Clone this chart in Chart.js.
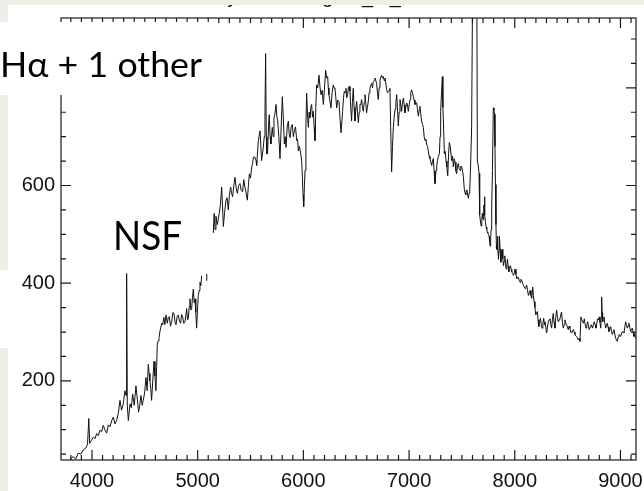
<!DOCTYPE html>
<html>
<head>
<meta charset="utf-8">
<script src="https://cdn.jsdelivr.net/npm/chart.js@4"></script>
<style>
  html, body { margin: 0; padding: 0; background: #fff; }
  #wrap { position: relative; width: 644px; height: 491px; }
</style>
</head>
<body>
<div id="wrap"><canvas id="spectrum" width="644" height="491"></canvas></div>
<script>
// Observed spectrum: wavelength (Angstrom) and flux; null marks the gap between the two arms
const wavelength = [
  3770, 3800, 3823, 3845, 3870, 3895, 3918, 3940, 3958, 3970, 3978, 3995, 4013, 4030, 4044, 4060,
  4076, 4092, 4107, 4122, 4139, 4155, 4170, 4186, 4202, 4218, 4233, 4250, 4265, 4280, 4296, 4312,
  4322, 4328, 4334, 4344, 4360, 4372, 4385, 4400, 4416, 4428, 4441, 4452, 4463, 4475, 4485, 4498,
  4511, 4522, 4533, 4541, 4548, 4556, 4564, 4575, 4587, 4596, 4605, 4612, 4618, 4626, 4634, 4642,
  4650, 4660, 4669, 4680, 4690, 4700, 4713, 4722, 4732, 4743, 4754, 4765, 4776, 4786, 4795, 4806,
  4817, 4828, 4839, 4848, 4858, 4868, 4880, 4896, 4904, 4912, 4920, 4927, 4935, 4943, 4951, 4959,
  4967, 4975, 4982, 4990, 4998, 5006, 5014, 5022, 5030, 5038, 5060, 5080, 5086, 5115,
  5148, 5156, 5164, 5173, 5185, 5194, 5204, 5215, 5227, 5235, 5243, 5255, 5268, 5278, 5290, 5300,
  5312, 5320, 5331, 5342, 5353, 5364, 5375, 5388, 5400, 5412, 5425, 5436, 5447, 5458, 5470, 5480,
  5489, 5500, 5511, 5520, 5527, 5542, 5552, 5558, 5574, 5590, 5605, 5621, 5630, 5637, 5643, 5649,
  5655, 5661, 5670, 5677, 5685, 5693, 5706, 5714, 5722, 5730, 5741, 5750, 5757, 5768, 5779, 5790,
  5801, 5810, 5820, 5828, 5836, 5847, 5858, 5866, 5874, 5885, 5896, 5905, 5915, 5926, 5937, 5945,
  5953, 5962, 5975, 5984, 5991, 5997, 6003, 6010, 6016, 6024, 6031, 6040, 6047, 6055, 6062, 6070,
  6078, 6086, 6094, 6102, 6110, 6118, 6125, 6136, 6148, 6158, 6167, 6178, 6189, 6200, 6211, 6220,
  6230, 6236, 6242, 6250, 6261, 6272, 6283, 6290, 6299, 6307, 6315, 6325, 6337, 6346, 6356, 6364,
  6371, 6380, 6387, 6395, 6403, 6411, 6419, 6426, 6434, 6441, 6448, 6456, 6464, 6472, 6480, 6488,
  6496, 6504, 6512, 6520, 6528, 6535, 6543, 6551, 6559, 6567, 6575, 6583, 6590, 6598, 6606, 6614,
  6622, 6630, 6638, 6646, 6654, 6661, 6669, 6677, 6685, 6693, 6701, 6709, 6717, 6725, 6733, 6740,
  6748, 6756, 6764, 6772, 6780, 6788, 6796, 6804, 6812, 6819, 6826, 6835, 6843, 6851, 6859, 6867,
  6875, 6883, 6890, 6898, 6906, 6914, 6922, 6930, 6938, 6946, 6954, 6961, 6969, 6977, 6985, 6993,
  7001, 7009, 7016, 7024, 7032, 7040, 7048, 7056, 7064, 7072, 7080, 7088, 7096, 7103, 7111, 7119,
  7127, 7135, 7143, 7151, 7159, 7166, 7174, 7182, 7190, 7198, 7206, 7214, 7222, 7229, 7237, 7245,
  7255, 7262, 7268, 7278, 7287, 7293, 7299, 7307, 7315, 7320, 7325, 7334, 7342, 7350, 7358, 7366,
  7374, 7381, 7390, 7403, 7411, 7419, 7427, 7435, 7443, 7450, 7458, 7466, 7474, 7482, 7490, 7498,
  7506, 7514, 7523, 7530, 7536, 7542, 7548, 7555, 7561, 7568, 7574, 7582, 7592, 7604, 7640, 7646,
  7655, 7662, 7668, 7676, 7682, 7688, 7694, 7700, 7704, 7709, 7713, 7718, 7723, 7729, 7735, 7740,
  7745, 7751, 7757, 7762, 7767, 7772, 7776, 7782, 7789, 7797, 7803, 7808, 7813, 7817, 7822, 7827,
  7832, 7836, 7841, 7846, 7851, 7855, 7861, 7868, 7874, 7880, 7887, 7893, 7900, 7906, 7912, 7918,
  7925, 7931, 7937, 7943, 7951, 7959, 7966, 7972, 7980, 7987, 7995, 8003, 8011, 8019, 8027, 8035,
  8043, 8050, 8058, 8066, 8074, 8082, 8090, 8098, 8105, 8113, 8121, 8129, 8137, 8145, 8153, 8161,
  8170, 8176, 8183, 8191, 8199, 8206, 8214, 8220, 8227, 8235, 8243, 8250, 8258, 8266, 8274, 8280,
  8286, 8294, 8301, 8309, 8317, 8325, 8333, 8341, 8349, 8356, 8364, 8372, 8380, 8388, 8396, 8404,
  8412, 8420, 8427, 8435, 8443, 8451, 8459, 8467, 8475, 8483, 8491, 8498, 8506, 8514, 8522, 8530,
  8538, 8546, 8554, 8562, 8569, 8577, 8585, 8593, 8601, 8609, 8617, 8626, 8634, 8642, 8650, 8658,
  8666, 8674, 8682, 8690, 8698, 8705, 8713, 8721, 8729, 8737, 8745, 8753, 8760, 8768, 8776, 8784,
  8792, 8800, 8806, 8813, 8818, 8822, 8826, 8831, 8838, 8844, 8852, 8860, 8867, 8875, 8883, 8891,
  8899, 8907, 8915, 8923, 8931, 8938, 8946, 8954, 8962, 8970, 8978, 8986, 8994, 9001, 9009, 9017,
  9025, 9033, 9041, 9049, 9057, 9064, 9072, 9080, 9088, 9096, 9104, 9112, 9120, 9128, 9136, 9143,
  9150
];
const flux = [
  30, 41, 45, 40, 52, 50, 59, 62, 70, 123, 72, 78, 85, 82, 92, 88,
  99, 96, 109, 100, 93, 110, 106, 118, 126, 112, 119, 135, 160, 140, 153, 180,
  170, 420, 150, 119, 153, 145, 173, 150, 190, 165, 136, 150, 170, 150, 160, 175,
  207, 180, 234, 215, 200, 185, 160, 200, 240, 210, 180, 230, 274, 282, 287, 300,
  308, 318, 315, 330, 315, 335, 318, 330, 331, 312, 321, 340, 338, 320, 315, 332,
  335, 322, 318, 336, 331, 318, 321, 348, 325, 328, 352, 368, 345, 348, 372, 388,
  360, 368, 340, 308, 345, 375, 385, 402, 395, 415, null, 406, 419, null,
  503, 543, 510, 537, 520, 530, 543, 560, 597, 560, 516, 545, 570, 575, 550, 580,
  597, 585, 577, 600, 617, 595, 584, 600, 604, 590, 587, 612, 597, 585, 570, 600,
  624, 615, 638, 645, 658, 658, 651, 641, 692, 712, 651, 678, 700, 752, 870, 700,
  665, 665, 720, 745, 700, 685, 719, 700, 739, 745, 766, 740, 732, 700, 655, 720,
  782, 740, 685, 700, 678, 720, 732, 705, 698, 720, 725, 700, 712, 720, 692, 695,
  671, 680, 665, 650, 617, 580, 557, 600, 631, 720, 789, 740, 719, 750, 739, 760,
  766, 740, 752, 720, 692, 760, 806, 800, 826, 800, 786, 795, 766, 800, 836, 820,
  823, 800, 786, 775, 759, 790, 806, 800, 799, 780, 759, 775, 772, 740, 708, 730,
  752, 780, 793, 790, 799, 780, 786, 800, 803, 793, 760, 732, 770, 799, 760, 732,
  755, 772, 750, 729, 750, 766, 765, 776, 760, 752, 770, 786, 770, 749, 760, 772,
  790, 799, 805, 809, 800, 813, 815, 820, 815, 809, 790, 776, 800, 816, 822, 826,
  820, 823, 815, 820, 810, 796, 790, 793, 795, 799, 719, 628, 680, 719, 740, 756,
  770, 786, 760, 722, 750, 776, 765, 752, 770, 779, 765, 749, 760, 769, 765, 752,
  765, 776, 790, 796, 790, 782, 775, 766, 770, 769, 755, 742, 755, 762, 745, 732,
  725, 719, 700, 692, 695, 685, 680, 671, 660, 655, 648, 641, 650, 655, 630, 604,
  631, 640, 651, 660, 665, 700, 752, 790, 823, 760, 732, 665, 670, 650, 638, 620,
  665, 688, 680, 651, 660, 638, 655, 648, 630, 624, 640, 645, 635, 631, 640, 638,
  630, 618, 591, 585, 581, 590, 591, 580, 574, 585, 591, 640, 720, 1100, 1100, 650,
  640, 625, 540, 525, 517, 530, 543, 530, 537, 560, 577, 540, 524, 515, 510, 505,
  503, 500, 496, 485, 476, 490, 510, 560, 631, 759, 755, 746, 680, 602, 520, 469,
  480, 496, 470, 449, 470, 496, 470, 443, 455, 469, 450, 436, 445, 456, 440, 429,
  440, 449, 435, 423, 430, 436, 428, 423, 420, 416, 420, 429, 418, 409, 412, 412,
  405, 402, 408, 406, 400, 396, 392, 389, 392, 396, 385, 375, 380, 385, 375, 369,
  392, 375, 362, 350, 335, 340, 342, 325, 311, 320, 328, 315, 308, 318, 328, 315,
  321, 310, 298, 310, 321, 325, 327, 315, 308, 325, 338, 320, 308, 330, 345, 330,
  321, 325, 327, 335, 341, 320, 308, 315, 325, 318, 315, 310, 305, 312, 308, 300,
  298, 303, 305, 300, 295, 292, 291, 288, 284, 287, 281, 331, 325, 321, 318, 327,
  315, 308, 315, 321, 312, 305, 310, 315, 312, 308, 318, 321, 315, 308, 318, 327,
  325, 331, 320, 308, 330, 372, 340, 321, 325, 331, 318, 308, 312, 318, 310, 301,
  305, 311, 302, 295, 300, 305, 296, 288, 284, 281, 290, 295, 293, 291, 296, 301,
  300, 298, 310, 321, 315, 308, 312, 318, 310, 301, 305, 308, 300, 291, 295, 288,
  290
];

// Axis ranges and tick labels
const xRange = [3707, 9147];
const yRange = [38, 943];
const xTickLabels = [4000, 5000, 6000, 7000, 8000, 9000];
const yTickLabels = [200, 400, 600, 800];
const xMinorStep = 100;
const yMinorStep = 50;

// Texts on top of the plot
const plotTitle = 'Galaxy SEDs of g15r_m_1';
const lineNote = 'Hα + 1 other';
const nsfNote = 'NSF';

const points = wavelength.map((w, i) => ({ x: w, y: flux[i] }));

const tickFont = { family: "'Liberation Sans', Arial, sans-serif", size: 20 };
const paper = '#eeede6';

// IDL-style box with inward ticks, plus the slide texts and margins
const idlFrame = {
  id: 'idlFrame',
  afterDraw(chart) {
    const { ctx, chartArea: a, scales } = chart;
    const sx = scales.x, sy = scales.y;
    ctx.save();
    ctx.strokeStyle = '#1a1a1a';
    ctx.lineWidth = 1.2;
    ctx.strokeRect(a.left, a.top, a.right - a.left, a.bottom - a.top);

    ctx.beginPath();
    for (let v = Math.ceil(xRange[0] / xMinorStep) * xMinorStep; v <= xRange[1]; v += xMinorStep) {
      const px = sx.getPixelForValue(v);
      const len = v % 1000 === 0 ? 10 : 5;
      ctx.moveTo(px, a.bottom); ctx.lineTo(px, a.bottom - len);
      ctx.moveTo(px, a.top); ctx.lineTo(px, a.top + len);
    }
    for (let v = Math.ceil(yRange[0] / yMinorStep) * yMinorStep; v <= yRange[1]; v += yMinorStep) {
      const py = sy.getPixelForValue(v);
      const len = v % 200 === 0 ? 10 : 5;
      ctx.moveTo(a.left, py); ctx.lineTo(a.left + len, py);
      ctx.moveTo(a.right, py); ctx.lineTo(a.right - len, py);
    }
    ctx.stroke();

    // wavelength labels under the bottom axis
    ctx.fillStyle = '#111';
    ctx.font = `${tickFont.size}px ${tickFont.family}`;
    ctx.textAlign = 'center';
    ctx.textBaseline = 'alphabetic';
    xTickLabels.forEach(v => ctx.fillText(String(v), sx.getPixelForValue(v), a.bottom + 27));

    // plot title, mostly cut off at the top of the slide
    ctx.textAlign = 'left';
    const gStart = plotTitle.indexOf('g1');
    ctx.fillText(plotTitle, 322 - ctx.measureText(plotTitle.slice(0, gStart)).width, 2.5);

    // white text box over the upper left corner
    ctx.fillStyle = '#fff';
    ctx.fillRect(0, 22, 215, 73);

    ctx.fillStyle = '#000';
    drawFitted(ctx, lineNote, "34px Lato, 'Noto Sans', sans-serif", 0, 77, 202);
    drawFitted(ctx, nsfNote, "40px Lato, 'Noto Sans', sans-serif", 113, 250, 69);

    // slide background around the figure
    ctx.fillStyle = paper;
    ctx.fillRect(0, 0, chart.width, 5);
    ctx.fillRect(0, 0, 8, 22);
    ctx.fillRect(0, 95, 8, 175);
    ctx.fillRect(0, 348, 8, chart.height - 348);
    ctx.restore();
  }
};

function drawFitted(ctx, text, font, x, baseline, width) {
  ctx.save();
  ctx.font = font;
  const w = ctx.measureText(text).width;
  ctx.translate(x, baseline);
  ctx.scale(width / w, 1);
  ctx.textAlign = 'left';
  ctx.textBaseline = 'alphabetic';
  ctx.fillText(text, 0, 0);
  ctx.restore();
}

new Chart(document.getElementById('spectrum'), {
  type: 'line',
  data: {
    datasets: [{
      data: points,
      borderColor: '#111',
      borderWidth: 1,
      pointRadius: 0,
      tension: 0,
      spanGaps: false
    }]
  },
  options: {
    responsive: false,
    animation: false,
    devicePixelRatio: 1,
    layout: { padding: { left: 0, top: 13, right: 8, bottom: 0 } },
    plugins: { legend: { display: false }, tooltip: { enabled: false } },
    scales: {
      x: {
        type: 'linear',
        min: xRange[0],
        max: xRange[1],
        afterBuildTicks: s => { s.ticks = xTickLabels.map(v => ({ value: v })); },
        afterFit: s => { s.height = 31; },
        grid: { display: false, drawTicks: false },
        border: { display: false },
        ticks: { display: false }
      },
      y: {
        min: yRange[0],
        max: yRange[1],
        afterBuildTicks: s => { s.ticks = yTickLabels.map(v => ({ value: v })); },
        afterFit: s => { s.width = 61; },
        grid: { display: false, drawTicks: false },
        border: { display: false },
        ticks: { font: tickFont, color: '#111', padding: 6, autoSkip: false, callback: v => String(v) }
      }
    }
  },
  plugins: [idlFrame]
});
</script>
</body>
</html>
